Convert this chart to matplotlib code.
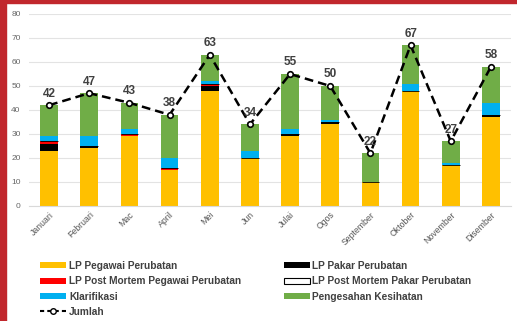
import matplotlib.pyplot as plt
from matplotlib.patches import Patch, Rectangle
from matplotlib.lines import Line2D
import numpy as np

plt.rcParams['font.family'] = ['Liberation Sans', 'DejaVu Sans']

bulan = ['Januari', 'Februari', 'Mac', 'April', 'Mei', 'Jun', 'Julai', 'Ogos',
         'September', 'Oktober', 'November', 'Disember']

lp_pegawai = [23, 24, 29, 15, 48, 20, 29, 34, 10, 48, 17, 37]
lp_pakar = [3, 1, 0, 0, 2, 0, 1, 1, 0, 0, 0, 1]
pm_pegawai = [1, 0, 1, 1, 1, 0, 0, 0, 0, 0, 0, 0]
pm_pakar = [0, 0, 0, 0, 0, 0, 0, 0, 0, 0, 0, 0]
klarifikasi = [2, 4, 2, 4, 1, 3, 2, 1, 0, 3, 1, 5]
pengesahan = [13, 18, 11, 18, 11, 11, 23, 14, 12, 16, 9, 15]
jumlah = [42, 47, 43, 38, 63, 34, 55, 50, 22, 67, 27, 58]

W, H = 517, 321
fig = plt.figure(figsize=(W / 100, H / 100), dpi=100)
fig.patch.set_facecolor('white')

# red frame on left and top
fig.add_artist(Rectangle((0, 0), 6 / W, 1, transform=fig.transFigure,
                         color='#c1272d', zorder=10))
fig.add_artist(Rectangle((0, 1 - 3 / H), 1, 3 / H, transform=fig.transFigure,
                         color='#c1272d', zorder=10))

ax = fig.add_axes([29 / W, 115 / H, 482 / W, 192 / H])
x = np.arange(len(bulan))
w = 0.44

series = [
    (lp_pegawai, '#FFC000', None, 'LP Pegawai Perubatan'),
    (lp_pakar, '#000000', None, 'LP Pakar Perubatan'),
    (pm_pegawai, '#FF0000', None, 'LP Post Mortem Pegawai Perubatan'),
    (pm_pakar, '#FFFFFF', '#000000', 'LP Post Mortem Pakar Perubatan'),
    (klarifikasi, '#00B0F0', None, 'Klarifikasi'),
    (pengesahan, '#70AD47', None, 'Pengesahan Kesihatan'),
]

bottom = np.zeros(len(bulan))
handles = {}
for vals, col, edge, lab in series:
    v = np.array(vals, dtype=float)
    ax.bar(x, v, w, bottom=bottom, color=col, edgecolor=edge if edge else col,
           linewidth=0 if edge is None else 0.6, zorder=2)
    bottom += v
    handles[lab] = Patch(facecolor=col, edgecolor=edge if edge else col,
                         linewidth=0.8 if edge else 0)

ax.plot(x, jumlah, color='black', linestyle=(0, (3.5, 2)), linewidth=1.8,
        marker='o', markersize=4, markerfacecolor='white',
        markeredgecolor='black', markeredgewidth=1.2, zorder=4)
for xi, yi in zip(x, jumlah):
    ax.annotate(str(yi), (xi, yi), xytext=(0, 4), textcoords='offset points',
                ha='center', va='bottom', fontsize=8.5, color='#404040',
                fontweight='bold', zorder=5)

ax.set_xlim(-0.5, len(bulan) - 0.5)
ax.set_ylim(0, 80)
ax.set_yticks(range(0, 81, 10))
ax.grid(axis='y', color='#e3e3e3', linewidth=0.8, zorder=0)
ax.set_axisbelow(True)
for s in ['top', 'right', 'left']:
    ax.spines[s].set_visible(False)
ax.spines['bottom'].set_color('#d9d9d9')
ax.tick_params(length=0, labelsize=6, colors='#666666', pad=3)
ax.set_xticks(x)
ax.set_xticklabels(bulan, rotation=45, ha='right', rotation_mode='anchor',
                   fontsize=6.3, color='#555555')
ax.tick_params(axis='y', pad=6)

jumlah_h = Line2D([], [], color='black', linestyle=(0, (2, 1.5)), linewidth=1.5,
                  marker='o', markersize=4, markerfacecolor='white',
                  markeredgecolor='black')
order = ['LP Pegawai Perubatan', 'LP Post Mortem Pegawai Perubatan',
         'Klarifikasi', None,
         'LP Pakar Perubatan', 'LP Post Mortem Pakar Perubatan',
         'Pengesahan Kesihatan']
hs = [handles[k] if k else jumlah_h for k in order]
ls = [k if k else 'Jumlah' for k in order]
leg = fig.legend(hs, ls, ncol=2, loc='upper left',
                 bbox_to_anchor=(40 / W, 1 - 261 / H), frameon=False,
                 fontsize=7.3, handlelength=2.6, handleheight=0.55,
                 handletextpad=0.25, columnspacing=4.2, labelspacing=0.52,
                 borderaxespad=0, borderpad=0)
for t in leg.get_texts():
    t.set_color('#404040')
    t.set_fontweight('bold')

fig.savefig('out.png', dpi=100)
